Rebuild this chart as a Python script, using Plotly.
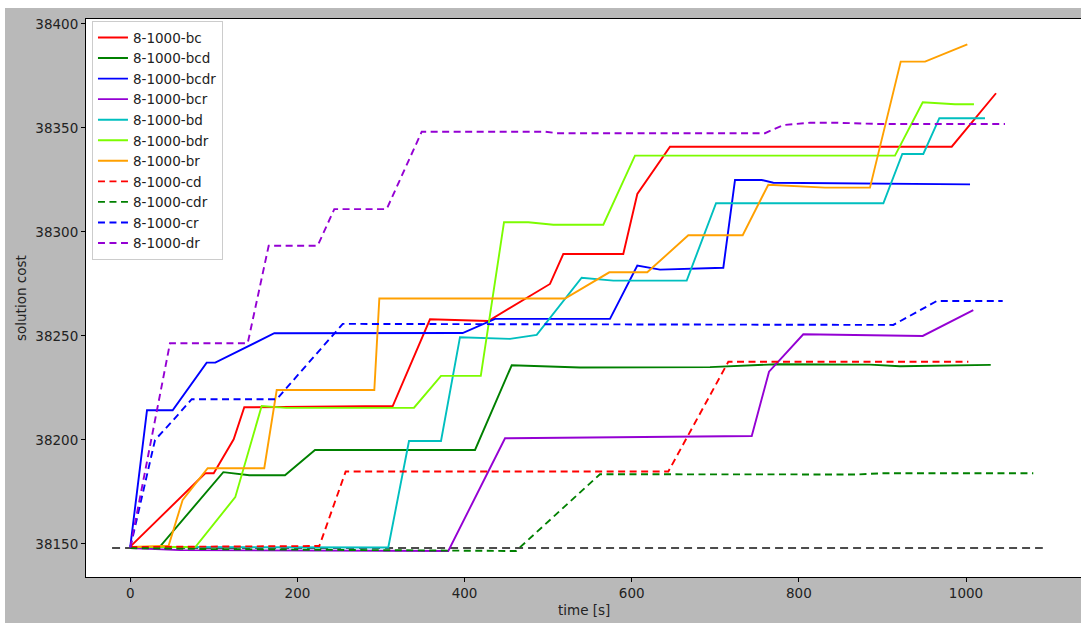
import plotly.graph_objects as go

# ---- data (time [s], solution cost) ----
names = ["8-1000-bc", "8-1000-bcd", "8-1000-bcdr", "8-1000-bcr", "8-1000-bd",
         "8-1000-bdr", "8-1000-br", "8-1000-cd", "8-1000-cdr", "8-1000-cr", "8-1000-dr"]
colors = ["#ff0000", "#008000", "#0000ff", "#9400d3", "#00bfbf",
          "#7cfc00", "#ffa000", "#ff0000", "#008000", "#0000ff", "#9400d3"]
dashed = [False, False, False, False, False, False, False, True, True, True, True]

bc_t = [0, 89.7, 99.8, 123.7, 136.4, 314, 358.6, 428.4, 502.2, 518.1, 589.9, 606.7, 645.8, 982.9, 1035.9]
bc_v = [38148.7, 38184, 38184, 38200.3, 38215.7, 38216.3, 38258, 38257.2, 38275, 38289.4, 38289.4, 38318.3, 38341, 38341, 38366.7]

bcd_t = [0, 34, 111.3, 142.4, 185.1, 221, 412.5, 456.4, 538.1, 693.7, 773.5, 885.1, 921, 1029.6]
bcd_v = [38148, 38148, 38184.5, 38183, 38183, 38195.2, 38195.2, 38235.9, 38234.8, 38235, 38236.4, 38236.2, 38235.4, 38236.1]

bcdr_t = [0, 20, 50.7, 91.4, 101.7, 172.3, 397.7, 436.4, 574, 606.7, 633.8, 709.6, 723.6, 755.5, 769.4, 1004.8]
bcdr_v = [38148.7, 38214.3, 38214.3, 38237.2, 38237.2, 38251.3, 38251.4, 38258.2, 38258.2, 38283.8, 38281.9, 38282.8, 38325, 38325, 38323.7, 38322.9]

bcr_t = [0, 60, 380.5, 448.4, 743.6, 764.3, 805.3, 948.2, 1008.7]
bcr_v = [38148, 38147, 38146.6, 38200.8, 38201.9, 38232.8, 38250.8, 38250, 38262.4]

bd_t = [0, 308.7, 333.5, 371.8, 394.5, 454.3, 486.3, 540.1, 578, 665.8, 700.9, 901.1, 923.8, 948.9, 968.1, 1022.7]
bd_v = [38148.5, 38148.3, 38199.5, 38199.5, 38249.4, 38248.6, 38250.5, 38278, 38276.6, 38276.6, 38313.8, 38313.8, 38337.5, 38337.5, 38354.7, 38354.7]

bdr_t = [0, 77.8, 125.6, 157.2, 186.3, 339.5, 371.8, 419.4, 447.2, 476.3, 506.2, 566, 603.9, 915, 948.2, 986.8, 1009.5]
bdr_v = [38148.5, 38148.5, 38172.5, 38216.3, 38215.4, 38215.5, 38230.8, 38230.8, 38304.7, 38304.7, 38303.5, 38303.5, 38336.7, 38336.7, 38362.4, 38361.4, 38361.4]

br_t = [0, 45.9, 62.7, 92.6, 160.3, 175.2, 292, 298, 520.2, 573.2, 618.6, 667.7, 732.8, 763.4, 831.3, 885.1, 921.9, 951, 1001.6]
br_v = [38148.5, 38149.2, 38171.2, 38186.4, 38186.4, 38224, 38224, 38268, 38268, 38280.6, 38280.6, 38298.4, 38298.4, 38322.7, 38321.3, 38321.3, 38381.9, 38381.9, 38390.2]

cd_t = [0, 226.2, 257.7, 643.8, 715.6, 1002.8]
cd_v = [38148.5, 38149, 38184.8, 38184.8, 38237.6, 38237.6]

cdr_t = [0, 100, 461.5, 562, 869.2, 900, 1080.5]
cdr_v = [38148, 38147.5, 38146.6, 38183.5, 38183.4, 38184, 38184]

cr_t = [0, 29.6, 51.5, 73.5, 175.2, 254.2, 913, 965, 1043.9]
cr_v = [38148.3, 38200, 38209.6, 38219.6, 38219.6, 38255.8, 38255.3, 38266.8, 38266.8]

dr_t = [0, 47.5, 140.5, 165.6, 224.2, 244.1, 306.8, 348.7, 496.2, 510.2, 759.5, 781.4, 813.3, 845.3, 897.1, 1046.7]
dr_v = [38148.3, 38246.5, 38246.5, 38293.4, 38293.4, 38311, 38311, 38348.2, 38348.2, 38347.5, 38347.5, 38351.4, 38352.5, 38352.5, 38351.9, 38351.9]

base_t = [-21.8, 1091.9]
base_v = [38148, 38148]

x_ticks = [0, 200, 400, 600, 800, 1000]
y_ticks = [38150, 38200, 38250, 38300, 38350, 38400]

series_t = [bc_t, bcd_t, bcdr_t, bcr_t, bd_t, bdr_t, br_t, cd_t, cdr_t, cr_t, dr_t]
series_v = [bc_v, bcd_v, bcdr_v, bcr_v, bd_v, bdr_v, br_v, cd_v, cdr_v, cr_v, dr_v]

FONT = "DejaVu Sans"
FS = 13.5

fig = go.Figure()
fig.add_trace(go.Scatter(x=base_t, y=base_v, mode="lines", showlegend=False,
                         line=dict(color="rgba(0,0,0,0.7)", width=2, dash="8px,5px")))
for n, c, d, t, v in zip(names, colors, dashed, series_t, series_v):
    fig.add_trace(go.Scatter(x=t, y=v, mode="lines", name=n,
                             line=dict(color=c, width=1.9, dash="7px,4.5px" if d else "solid")))

fig.update_layout(
    width=1081, height=623,
    margin=dict(l=86, r=0, t=19, b=46, pad=0),
    paper_bgcolor="#b9b9b9", plot_bgcolor="white",
    font=dict(family=FONT, size=FS, color="#222222"),
    showlegend=True,
    legend=dict(x=0.006, y=0.996, xanchor="left", yanchor="top",
                bgcolor="rgba(255,255,255,0.9)", bordercolor="#cccccc", borderwidth=1,
                font=dict(family=FONT, size=FS, color="#222222"), itemwidth=30),
    xaxis=dict(range=[-53.0, 1137.6], tickvals=x_ticks, showgrid=False, zeroline=False,
               showline=True, linecolor="black", linewidth=1, mirror=True,
               ticks="outside", ticklen=4, tickcolor="black", tickfont=dict(size=FS)),
    yaxis=dict(range=[38134.1, 38402.4], tickvals=y_ticks, tickformat="d",
               showgrid=False, zeroline=False,
               showline=True, linecolor="black", linewidth=1,
               ticks="outside", ticklen=4, tickcolor="black", tickfont=dict(size=FS)),
    shapes=[
        dict(type="rect", xref="paper", yref="paper", x0=-0.1, x1=1.01,
             y0=(577 - 8) / 558, y1=1.1, fillcolor="white", line=dict(width=0), layer="above"),
        dict(type="rect", xref="paper", yref="paper", x0=-0.1, x1=(5 - 86) / 995,
             y0=-0.1, y1=1.1, fillcolor="white", line=dict(width=0), layer="above"),
    ],
    annotations=[
        dict(text="solution cost", xref="paper", yref="paper", x=(21 - 86) / 995, y=0.5,
             textangle=-90, showarrow=False, xanchor="center", yanchor="middle",
             font=dict(family=FONT, size=FS, color="#222222")),
        dict(text="time [s]", xref="paper", yref="paper", x=0.5, y=(577 - 610) / 558,
             showarrow=False, xanchor="center", yanchor="middle",
             font=dict(family=FONT, size=FS, color="#222222")),
    ],
)

fig.write_html("out.html", config={"displayModeBar": False},
               post_script="document.body.style.margin='0';document.body.style.overflow='hidden';")
